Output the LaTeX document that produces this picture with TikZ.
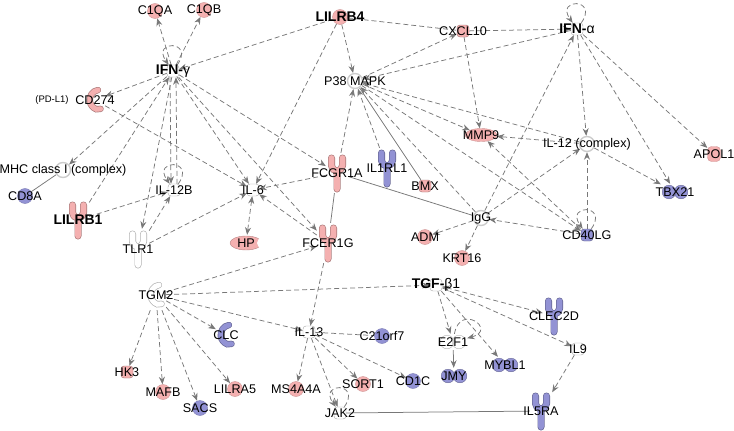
\documentclass[tikz,border=0pt]{standalone}
\usepackage{fontspec}
\setmainfont{Liberation Sans}
\usepackage{tikz}
\usetikzlibrary{arrows.meta, shapes.geometric, backgrounds}

\definecolor{upreg}{RGB}{244,176,176}
\definecolor{dnreg}{RGB}{146,146,212}
\definecolor{edgegray}{RGB}{120,120,120}

% receptor, crescent, peptidase and regulator glyphs
\newcommand{\drawrecep}[1]{%
  \draw[shift={(path picture bounding box.center)}, line width=7pt, draw=#1!70!black,
    line cap=round, line join=round]
    (-5.5pt,15pt) -- (-5.5pt,7.5pt) arc[start angle=180, end angle=360, radius=5.5pt] -- (5.5pt,15pt)
    (0pt,2pt) -- (0pt,-16pt);
  \draw[shift={(path picture bounding box.center)}, line width=5.6pt, draw=#1,
    line cap=round, line join=round]
    (-5.5pt,15pt) -- (-5.5pt,7.5pt) arc[start angle=180, end angle=360, radius=5.5pt] -- (5.5pt,15pt)
    (0pt,2pt) -- (0pt,-16pt);}
\newcommand{\drawcres}[1]{%
  \foreach \lw/\col in {6.4pt/#1!70!black, 5pt/#1}{
    \draw[shift={(path picture bounding box.center)}, line width=\lw, draw=\col, line cap=round]
      (3pt,10pt) arc[start angle=100, end angle=250, radius=10pt]
      arc[start angle=250, end angle=300, radius=5pt];
  }}
\newcommand{\drawhp}[1]{%
  \filldraw[shift={(path picture bounding box.center)}, fill=#1, draw=#1!75!black]
    (0pt,0pt) ellipse[x radius=16pt, y radius=7pt];
  \fill[shift={(path picture bounding box.center)}, white] (16pt,0pt) circle[radius=5pt];}
\newcommand{\drawtf}[1]{%
  \filldraw[shift={(path picture bounding box.center)}, fill=#1, draw=#1!70!black]
    (-6pt,0pt) circle[radius=6.8pt] (6pt,0pt) circle[radius=6.8pt];}

\tikzset{
  lbl/.style={font=\fontsize{12.6}{14}\selectfont, inner sep=0pt},
  bold/.style={font=\fontsize{14}{16}\selectfont\bfseries, inner sep=0pt},
  gene/.style={circle, minimum size=15pt, inner sep=0pt, fill=#1, draw=#1!85!black},
  grp/.style={circle, minimum size=15pt, inner sep=0pt, fill=white, draw=gray!40, line width=1.4pt},
  cyto/.style={rectangle, rounded corners=3pt, minimum size=12pt, inner sep=0pt, fill=#1, draw=#1!65!black},
  recep/.style={rectangle, minimum width=22pt, minimum height=40pt, inner sep=0pt, path picture={\drawrecep{#1}}},
  cres/.style={rectangle, minimum width=20pt, minimum height=30pt, inner sep=0pt, path picture={\drawcres{#1}}},
  pept/.style={rectangle, minimum width=36pt, minimum height=16pt, inner sep=0pt, path picture={\drawhp{#1}}},
  tfac/.style={rectangle, minimum width=28pt, minimum height=16pt, inner sep=0pt, path picture={\drawtf{#1}}},
}

\begin{document}
\begin{tikzpicture}[x=1pt, y=1pt, >={Stealth[length=7.5pt, width=6pt]},
  rel/.style={->, draw=edgegray, line width=0.75pt, dash pattern=on 5pt off 3pt},
  link/.style={draw=edgegray, line width=0.75pt, dash pattern=on 5pt off 3pt},
  bind/.style={draw=edgegray, line width=0.75pt},
  selfloop/.style={rel, out=55, in=125, looseness=9}]
\useasboundingbox (0,0) rectangle (734,-431);

% Nodes
\node[gene=upreg, label={[lbl]center:C1QA}] (c1qa) at (155,-11) {};
\node[gene=upreg, label={[lbl]center:C1QB}] (c1qb) at (204,-10) {};
\node[gene=upreg, label={[bold]center:LILRB4}] (lilrb4) at (340,-17) {};
\node[cyto=upreg, label={[lbl]center:CXCL10}] (cxcl10) at (463,-31) {};
\node[cyto=white, label={[bold]center:IFN-{\mdseries α}}] (ifna) at (577,-29) {};
\node[cyto=white, label={[bold]center:IFN-{\mdseries γ}}] (ifng) at (173,-71) {};
\node[grp, label={[lbl]center:P38 MAPK}] (p38) at (355,-81) {};
\node[cres=upreg, label={[lbl]center:CD274}] (cd274) at (95,-100) {};
\node[font=\fontsize{9.5}{11}\selectfont] (pdl1) at (52,-100) {(PD-L1)};
\node[ellipse, minimum width=32pt, minimum height=13pt, inner sep=0pt, fill=upreg, draw=upreg!85!black,
  label={[lbl]center:MMP9}] (mmp9) at (481,-135) {};
\node[grp, label={[lbl]center:IL-12 (complex)}] (il12c) at (587,-144) {};
\node[rectangle, rounded corners=4pt, minimum width=13pt, minimum height=15pt, fill=upreg, draw=upreg!85!black,
  label={[lbl]center:APOL1}] (apol1) at (714,-154) {};
\node[grp, label={[lbl]center:MHC class I (complex)}] (mhc) at (63,-170) {};
\node[gene=dnreg, label={[lbl]center:CD8A}] (cd8a) at (25,-196) {};
\node[cyto=white, label={[lbl]center:IL-12B}] (il12b) at (174,-190) {};
\node[cyto=white, label={[lbl]center:IL-6}] (il6) at (253,-190) {};
\node[recep=upreg, label={[lbl]center:FCGR1A}] (fcgr1a) at (337,-173) {};
\node[recep=dnreg, label={[lbl]center:IL1RL1}] (il1rl1) at (387,-168) {};
\node[cyto=upreg, label={[lbl]center:BMX}] (bmx) at (425,-186) {};
\node[tfac=dnreg, label={[lbl]center:TBX21}] (tbx21) at (675,-192) {};
\node[recep=upreg, label={[bold]center:LILRB1}] (lilrb1) at (78,-220) {};
\node[grp, label={[lbl]center:IgG}] (igg) at (481,-218) {};
\node[gene=upreg, label={[lbl]center:ADM}] (adm) at (425,-237) {};
\node[cyto=dnreg, label={[lbl]center:CD40LG}] (cd40lg) at (587,-235) {};
\node[recep=white, label={[lbl]center:TLR1}] (tlr1) at (138,-249) {};
\node[pept=upreg, label={[lbl]center:HP}] (hp) at (246,-243) {};
\node[recep=upreg, label={[lbl]center:FCER1G}] (fcer1g) at (328,-243) {};
\node[gene=upreg, label={[lbl]center:KRT16}] (krt16) at (462,-258) {};
\node[cres=white, label={[lbl]center:TGM2}] (tgm2) at (156,-295) {};
\node[cyto=white, label={[bold]center:TGF-{\mdseries β1}}] (tgfb1) at (436,-285) {};
\node[recep=dnreg, label={[lbl]center:CLEC2D}] (clec2d) at (554,-316) {};
\node[cres=dnreg, label={[lbl]center:CLC}] (clc) at (226,-335) {};
\node[cyto=white, label={[lbl]center:IL-13}] (il13) at (309,-332) {};
\node[gene=dnreg, label={[lbl]center:C21orf7}] (c21orf7) at (382,-336) {};
\node[tfac=white, label={[lbl]center:E2F1}] (e2f1) at (453,-342) {};
\node[cyto=white, label={[lbl]center:IL9}] (il9) at (578,-349) {};
\node[cyto=upreg, label={[lbl]center:HK3}] (hk3) at (127,-372) {};
\node[gene=upreg, label={[lbl]center:MAFB}] (mafb) at (163,-392) {};
\node[gene=upreg, label={[lbl]center:LILRA5}] (lilra5) at (235,-389) {};
\node[gene=upreg, label={[lbl]center:MS4A4A}] (ms4a4a) at (296,-389) {};
\node[gene=upreg, label={[lbl]center:SORT1}] (sort1) at (363,-384) {};
\node[gene=dnreg, label={[lbl]center:CD1C}] (cd1c) at (413,-381) {};
\node[tfac=dnreg, label={[lbl]center:MYBL1}] (mybl1) at (505,-365) {};
\node[tfac=dnreg, label={[lbl]center:JMY}] (jmy) at (454,-376) {};
\node[gene=dnreg, label={[lbl]center:SACS}] (sacs) at (200,-408) {};
\node[cyto=white, label={[lbl]center:JAK2}] (jak2) at (340,-413) {};
\node[recep=dnreg, label={[lbl]center:IL5RA}] (il5ra) at (541,-411) {};

% Arrows
\begin{scope}[on background layer]
\draw[rel] (ifng) -- (c1qa);
\draw[rel] (ifng) -- (c1qb);
\draw[rel] (lilrb4) -- (ifng);
\draw[rel] (ifng) -- (cd274);
\draw[selfloop] (ifng) to (ifng);
\draw[rel] (ifng) -- (mhc);
\draw[rel] (lilrb1) -- (ifng);
\draw[rel] (ifng) -- (tlr1);
\draw[rel] ([xshift=-3pt]ifng.south) -- ([xshift=-3pt]il12b.north);
\draw[rel] ([xshift=3pt]il12b.north) -- ([xshift=3pt]ifng.south);
\draw[rel] (ifng) -- (il6);
\draw[rel] (ifng) -- (fcgr1a);
\draw[rel] (ifng) -- (fcer1g);
\draw[rel] (cd274) -- (il6);
\draw[bind] (mhc) -- (cd8a);
\draw[rel] (lilrb1) -- (il12b);
\draw[rel] (tlr1) -- (il12b);
\draw[rel] (tlr1) -- (il6);
\draw[selfloop] (il12b) to (il12b);
\draw[rel, <->] (il6) -- (hp);
\draw[rel] (fcer1g) -- (il6);
\draw[rel] (fcgr1a) -- (il6);
\draw[rel] (lilrb4) -- (il6);
\draw[rel] (lilrb4) -- (p38);
\draw[link] (lilrb4) -- (cxcl10);
\draw[rel] (cxcl10) -- (ifna);
\draw[rel] (p38) -- (cxcl10);
\draw[rel] (ifna) -- (p38);
\draw[rel] (cxcl10) -- (mmp9);
\draw[selfloop] (ifna) to (ifna);
\draw[rel] (ifna) -- (il12c);
\draw[rel] (ifna) -- (tbx21);
\draw[rel] (ifna) -- (apol1);
\draw[rel] (igg) -- (ifna);
\draw[rel] (il12c) -- (mmp9);
\draw[rel] (p38) -- (mmp9);
\draw[rel] (il12c) -- (p38);
\draw[rel] (il12c) -- (tbx21);
\draw[rel] (p38) -- (cd40lg);
\draw[rel] (cd40lg) -- (mmp9);
\draw[rel] (cd40lg) -- (igg);
\draw[rel] (cd40lg) -- (il12c);
\draw[selfloop] (cd40lg) to (cd40lg);
\draw[rel] (igg) -- (il12c);
\draw[rel] (igg) -- (adm);
\draw[rel] (igg) -- (krt16);
\draw[rel] (igg) -- (p38);
\draw[bind] (fcgr1a) -- (igg);
\draw[bind] (fcgr1a) -- (fcer1g);
\draw[rel] (fcgr1a) -- (p38);
\draw[rel] (il1rl1) -- (p38);
\draw[bind] (bmx) -- (p38);
\draw[rel] (fcer1g) -- (il13);
\draw[rel] (tgm2) -- (fcer1g);
\draw[rel] (tgm2) -- (tgfb1);
\draw[rel] (tgm2) -- (hk3);
\draw[rel] (tgm2) -- (mafb);
\draw[rel] (tgm2) -- (sacs);
\draw[rel] (tgm2) -- (lilra5);
\draw[rel] (tgm2) -- (clc);
\draw[rel] (tgm2) -- (il13);
\draw[rel] (il13) -- (ms4a4a);
\draw[rel] (il13) -- (sort1);
\draw[rel] (il13) -- (cd1c);
\draw[rel] (il13) -- (jak2);
\draw[link] (il13) -- (c21orf7);
\draw[rel] (tgfb1) -- (e2f1);
\draw[rel] (tgfb1) -- (mybl1);
\draw[rel] (tgfb1) -- (il9);
\draw[rel, <->] (tgfb1) -- (clec2d);
\draw[->, draw=edgegray, line width=0.75pt] (e2f1) -- (jmy);
\draw[selfloop, out=80, in=15, looseness=6] (e2f1) to (e2f1);
\draw[rel] (il9) -- (il5ra);
\draw[bind] (jak2) -- (il5ra);
\draw[selfloop] (jak2) to (jak2);
\end{scope}
\end{tikzpicture}
\end{document}
